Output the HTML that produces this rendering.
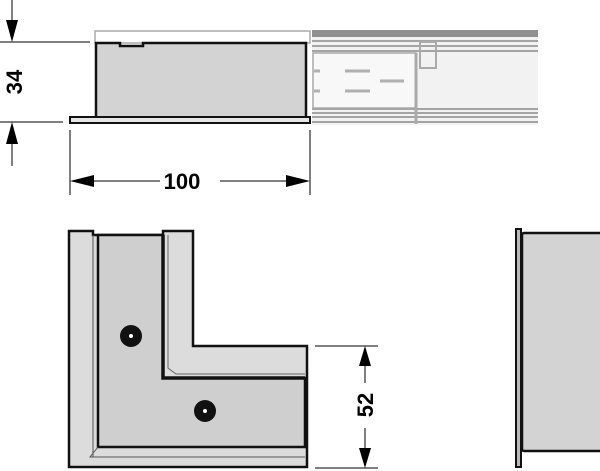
<!DOCTYPE html>
<html><head><style>body{margin:0;background:#fff}svg{display:block}</style></head><body>
<svg width="600" height="471" viewBox="0 0 600 471" xmlns="http://www.w3.org/2000/svg" font-family="Liberation Sans, sans-serif">
<rect x="312" y="30" width="226" height="95" fill="#f2f2f2"/>
<rect x="312" y="30" width="226" height="7" fill="#909090"/>
<g stroke="#999" stroke-width="1.8">
<line x1="312" y1="41" x2="538" y2="41"/><line x1="312" y1="46" x2="538" y2="46"/><line x1="312" y1="51" x2="538" y2="51"/>
<line x1="312" y1="109" x2="538" y2="109"/><line x1="312" y1="113" x2="538" y2="113"/><line x1="312" y1="117" x2="538" y2="117"/><line x1="312" y1="122" x2="538" y2="122"/>
</g>
<rect x="313" y="53" width="103" height="55" fill="#f8f8f8" stroke="#aaa" stroke-width="1.5"/>
<rect x="420" y="42" width="16" height="26" fill="none" stroke="#aaa" stroke-width="2"/>
<line x1="416" y1="53" x2="416" y2="124" stroke="#aaa" stroke-width="3"/>
<g stroke="#b0b0b0" stroke-width="3"><line x1="345" y1="71" x2="370" y2="71"/><line x1="345" y1="91" x2="370" y2="91"/><line x1="380" y1="81" x2="404" y2="81"/><line x1="314" y1="71" x2="320" y2="71"/><line x1="314" y1="91" x2="320" y2="91"/></g>
<rect x="95" y="31" width="215" height="12" fill="none" stroke="#aaa" stroke-width="1.5"/>
<path d="M96 118 V43 H120 V46 H143 V43 H306 V118 Z" fill="#d3d3d3" stroke="#111" stroke-width="2.5"/>
<rect x="70" y="117" width="240" height="6" fill="#e6e6e6" stroke="#111" stroke-width="2"/>
<g stroke="#000" stroke-width="1"><line x1="0" y1="42" x2="90" y2="42"/><line x1="0" y1="122" x2="63" y2="122"/><line x1="12" y1="0" x2="12" y2="30"/><line x1="12" y1="134" x2="12" y2="166"/>
<line x1="70" y1="130" x2="70" y2="195"/><line x1="310" y1="130" x2="310" y2="195"/>
<line x1="82" y1="181" x2="160" y2="181"/><line x1="220" y1="181" x2="298" y2="181"/>
<line x1="315" y1="346" x2="378" y2="346"/><line x1="315" y1="468" x2="378" y2="468"/>
<line x1="365" y1="358" x2="365" y2="383"/><line x1="365" y1="428" x2="365" y2="456"/></g>
<g fill="#000"><polygon points="6,20 18,20 12,42"/><polygon points="6,144 18,144 12,122"/>
<polygon points="70,181 94,175 94,187"/><polygon points="310,181 286,175 286,187"/>
<polygon points="365,346 359,366 371,366"/><polygon points="365,468 359,448 371,448"/></g>
<text x="0" y="0" transform="translate(22,82) rotate(-90)" text-anchor="middle" font-size="22" font-weight="bold">34</text>
<text x="182" y="189" text-anchor="middle" font-size="22" font-weight="bold">100</text>
<text x="0" y="0" transform="translate(373,405) rotate(-90)" text-anchor="middle" font-size="22" font-weight="bold">52</text>
<path d="M69 231 H93 V235 H163 V231 H193 V346 H307 V467 H69 Z" fill="#dcdcdc" stroke="#111" stroke-width="2.5"/>
<path d="M98 235 H163 V378 H305 V447 H98 Z" fill="#cfcfcf" stroke="#111" stroke-width="2.5"/>
<path d="M163 235 V378 H305" fill="none" stroke="#111" stroke-width="3.5"/>
<path d="M98 447 L90 457 H305" fill="none" stroke="#555" stroke-width="1"/>
<path d="M168 235 V368 L176 374 H305" fill="none" stroke="#666" stroke-width="1"/>
<line x1="93" y1="235" x2="93" y2="457" stroke="#555" stroke-width="1"/>
<circle cx="131" cy="336" r="11" fill="#111"/><circle cx="131" cy="336" r="2" fill="#fff"/>
<circle cx="205" cy="411" r="11" fill="#111"/><circle cx="205" cy="411" r="2" fill="#fff"/>
<rect x="522" y="233" width="80" height="218" fill="#d3d3d3" stroke="#111" stroke-width="2.5" rx="2"/>
<rect x="516" y="229" width="5" height="238" fill="#bbb" stroke="#111" stroke-width="2"/>
</svg>
</body></html>
